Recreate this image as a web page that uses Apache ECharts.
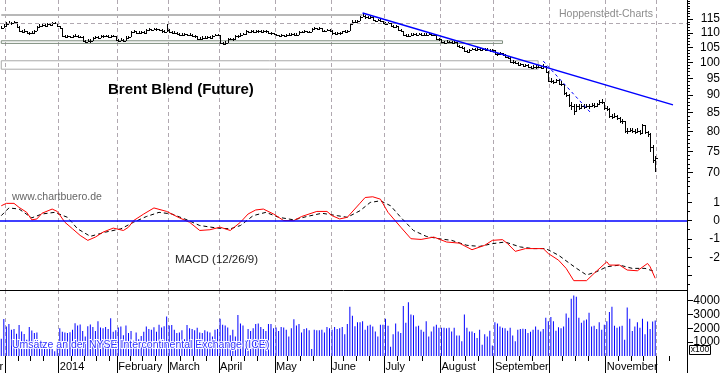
<!DOCTYPE html>
<html><head><meta charset="utf-8">
<script src="https://cdn.jsdelivr.net/npm/echarts@6/dist/echarts.min.js"></script>
<style>html,body{margin:0;padding:0;background:#fff}#c{width:723px;height:373px}</style>
</head><body><div id="c"></div>
<script>
// ---------- categories (trading days per month) ----------
const monthKeys   = ['2013-11','2013-12','2014-01','2014-02','2014-03','2014-04','2014-05','2014-06','2014-07','2014-08','2014-09','2014-10','2014-11','2014-12'];
const monthLabels = ['November','December','2014','February','March','April','May','June','July','August','September','October','November','December'];
const monthDays   = [2,21,23,20,20,22,22,21,22,21,22,22,20,12];
const labelShown  = [false,false,true,true,true,true,true,true,true,true,true,false,true,false];

// ---------- price (HLC bars) ----------
const close = [
111.9,112.4,113.2,113.6,113.4,113.8,112.1,110.8,110.4,110.6,
110.0,109.8,110.1,110.6,112.0,112.5,112.8,112.6,113.0,112.7,
113.4,113.5,112.3,111.9,108.9,108.6,108.8,108.4,108.7,109.0,
108.5,108.6,107.2,106.9,107.3,107.0,108.2,108.5,108.3,108.9,
108.7,108.9,108.5,108.8,108.9,107.4,107.2,107.6,107.3,108.3,
108.5,110.3,110.6,110.1,110.0,110.3,110.0,111.1,111.3,111.0,
111.4,111.2,111.0,110.5,110.4,111.0,110.2,110.0,110.1,109.5,
109.4,109.3,109.5,109.2,109.4,108.8,108.7,107.8,107.9,108.3,
108.2,108.4,108.3,109.0,109.2,109.1,106.5,106.2,106.6,107.7,
107.9,107.8,108.8,108.7,109.4,109.5,110.6,110.3,110.6,110.4,
110.5,110.6,110.4,110.7,110.5,109.8,109.9,109.6,109.1,109.0,
109.2,108.9,109.1,109.4,109.5,109.3,109.4,110.2,110.3,110.5,
110.2,110.4,111.5,111.6,111.4,111.7,110.8,110.6,111.0,110.8,
109.8,109.6,110.0,109.8,110.5,110.4,110.6,113.3,114.0,113.9,
114.3,115.8,116.2,115.6,115.4,115.7,114.5,114.3,114.6,114.2,
113.5,113.3,113.6,112.4,112.2,112.3,110.9,110.7,109.2,109.0,
108.9,109.4,109.5,109.2,109.6,109.3,109.4,109.2,109.5,109.1,
109.3,107.9,107.7,106.8,106.6,106.9,106.7,106.5,106.8,105.4,
105.0,104.8,103.7,103.5,103.9,104.3,104.1,104.5,104.2,104.3,
104.0,104.1,103.8,104.0,102.8,102.6,102.9,102.5,101.7,101.5,
100.2,100.0,99.9,99.1,99.3,98.9,99.0,98.6,98.3,98.6,
98.4,98.6,98.3,98.7,97.0,94.2,94.0,93.8,94.3,93.3,
93.1,90.5,90.0,87.2,86.8,85.5,86.9,86.3,86.8,86.5,
86.9,86.7,87.1,86.8,87.3,87.9,88.0,86.2,86.0,84.0,
83.8,84.2,83.5,82.8,82.6,80.2,80.0,80.4,80.1,79.8,
80.0,79.6,81.6,79.8,79.2,76.0,73.0,73.4];
const high = [
112.5,113.0,113.8,114.2,114.0,114.3,113.9,112.3,111.0,111.2,
110.7,110.4,110.6,111.0,112.4,113.0,113.2,113.1,113.4,113.2,
113.8,113.9,113.6,112.6,111.8,109.3,109.3,109.0,109.2,109.5,
109.2,109.0,108.7,107.6,107.8,107.7,108.6,109.0,108.9,109.3,
109.3,109.4,109.1,109.2,109.4,108.9,107.8,108.0,107.9,108.7,
109.0,110.7,111.0,110.8,110.6,110.7,110.6,111.5,111.8,111.5,
111.9,111.7,111.5,111.2,110.9,113.1,111.3,110.6,110.5,110.2,
109.9,109.8,109.9,109.7,109.8,109.5,109.2,108.7,108.4,108.7,
108.7,108.9,108.8,109.4,109.7,109.6,109.0,106.9,107.1,108.0,
108.3,108.3,109.1,109.2,109.8,109.9,110.9,110.8,110.9,110.9,
110.9,111.0,110.9,111.1,111.0,110.5,110.3,110.1,109.6,109.4,
109.6,109.4,109.5,109.8,109.9,109.8,109.8,110.5,110.7,110.9,
110.7,110.8,111.8,112.0,111.9,112.1,111.8,111.1,111.4,111.3,
110.9,110.2,110.4,110.3,110.8,110.9,111.0,113.6,114.6,114.5,
114.8,116.3,117.3,116.5,116.0,116.2,115.8,114.8,115.1,114.9,
114.4,113.9,114.0,113.7,112.8,112.8,112.6,111.3,110.8,109.6,
109.5,109.8,110.0,109.8,110.0,109.9,109.8,109.8,110.0,109.7,
109.7,109.4,108.2,107.7,107.2,107.4,107.3,107.0,107.3,106.9,
105.7,105.4,105.0,104.1,104.5,104.8,104.8,105.0,104.9,104.8,
104.6,104.6,104.5,104.5,104.0,103.2,103.4,103.1,102.6,102.1,
101.6,100.8,100.5,100.0,99.8,99.6,99.5,99.3,98.9,99.1,
99.0,99.2,98.9,99.3,98.8,97.2,95.0,94.5,94.9,94.6,
94.0,93.2,91.0,90.3,88.0,87.5,87.5,87.3,87.4,87.3,
87.5,87.4,87.7,87.6,87.8,88.4,88.7,88.1,86.8,86.2,
84.6,84.9,84.4,83.8,83.2,82.8,80.9,81.0,80.9,80.6,
80.8,80.4,82.0,81.8,80.2,79.6,76.5,74.0];
const low = [
111.3,111.7,112.3,113.0,112.8,113.1,111.8,110.3,109.9,110.0,
109.6,109.3,109.6,110.0,110.5,111.8,112.2,112.1,112.5,112.3,
112.6,113.0,112.0,111.5,108.6,108.1,108.3,108.0,108.2,108.5,
108.1,108.1,106.9,106.5,106.7,106.6,107.0,108.0,107.9,108.2,
108.3,108.4,108.0,108.3,108.4,107.1,106.8,107.0,106.9,107.2,
108.0,108.4,110.1,109.7,109.6,109.8,109.6,109.9,110.8,110.6,
110.9,110.8,110.5,110.1,110.0,110.2,109.9,109.6,109.6,109.1,
108.9,108.9,109.0,108.8,108.9,108.4,108.2,107.4,107.5,107.8,
107.8,107.9,107.9,108.2,108.8,108.7,106.1,105.8,106.0,106.4,
107.4,107.3,107.7,108.3,108.6,109.1,109.4,109.9,110.1,110.0,
110.0,110.1,110.0,110.2,110.0,109.5,109.4,109.2,108.7,108.6,
108.8,108.5,108.7,109.0,109.1,108.9,109.0,109.3,109.9,110.0,
109.8,110.0,110.3,111.2,111.0,111.2,110.4,110.2,110.5,110.4,
109.4,109.2,109.5,109.4,109.7,110.0,110.2,110.5,113.1,113.5,
113.7,114.2,115.6,115.2,115.0,115.2,114.2,113.9,114.1,113.8,
113.1,112.9,113.0,112.1,111.8,111.9,110.6,110.3,108.9,108.6,
108.5,108.9,109.1,108.8,109.1,108.9,109.0,108.8,109.1,108.7,
108.8,107.6,107.3,106.3,106.2,106.4,106.3,106.0,106.3,105.0,
104.6,104.3,103.3,103.0,103.4,103.9,103.7,104.0,103.8,103.9,
103.6,103.7,103.4,103.5,102.5,102.2,102.5,102.1,101.3,101.0,
99.9,99.6,99.5,98.7,98.8,98.4,98.5,98.1,97.8,98.1,
97.9,98.1,97.8,98.2,96.6,93.8,93.4,93.2,93.6,92.8,
92.5,90.0,89.3,86.6,85.8,84.3,85.4,85.6,86.1,85.9,
86.3,86.1,86.5,86.2,86.6,87.2,87.4,85.8,85.5,83.6,
83.3,83.6,82.9,82.3,82.0,79.7,79.4,79.8,79.5,79.2,
79.5,79.1,79.4,79.2,78.5,74.8,72.2,70.2];

// ---------- MACD (12/26/9): points read at day positions ----------
const macdDay = [0,2,5,7,10,12,14,16,20,22,25,28,31,34,37,40,44,48,50,52,56,60,65,70,74,78,82,86,90,94,97,100,103,107,111,115,118,124,128,130,133,136,141,143,146,149,152,157,161,165,170,175,180,185,190,193,197,199,202,206,213,215,219,222,225,230,233,238,239,243,246,250,254,255,257];
const macdVal = [0.81,0.94,0.94,0.72,0.45,0.04,0.09,0.40,0.63,0.50,-0.09,-0.45,-0.81,-1.08,-0.90,-0.63,-0.41,-0.54,-0.36,0,0.36,0.69,0.50,0.15,-0.09,-0.54,-0.50,-0.36,-0.54,-0.09,0.36,0.58,0.63,0.36,0,0,0.22,0.50,0.50,0.27,0.09,0.18,0.95,1.26,1.30,1.17,0.45,-0.36,-0.99,-1.03,-0.90,-1.17,-1.23,-1.59,-1.35,-1.08,-1.04,-1.26,-1.68,-1.53,-1.53,-1.80,-2.16,-2.61,-3.28,-3.28,-2.88,-2.25,-2.43,-2.43,-2.70,-2.74,-2.34,-2.52,-3.15];
const signalDay = [0,3,7,12,16,21,26,30,35,41,47,52,57,62,67,73,78,85,90,94,99,104,109,115,120,126,132,136,141,145,149,153,157,162,167,172,177,183,188,193,198,204,209,214,219,223,226,230,234,238,243,248,253,257];
const signalVal = [0.27,0.69,0.63,0.15,0.36,0.45,0.18,-0.45,-0.86,-0.63,-0.45,-0.09,0.22,0.45,0.36,0.04,-0.27,-0.41,-0.45,-0.27,0.27,0.45,0.18,0.04,0.22,0.40,0.27,0.18,0.54,0.99,1.08,0.81,0.18,-0.54,-0.86,-0.99,-1.08,-1.35,-1.41,-1.26,-1.17,-1.44,-1.53,-1.53,-1.89,-2.3,-2.6,-2.97,-2.79,-2.52,-2.43,-2.61,-2.61,-2.79];

// ---------- volume (x100) ----------
const volume = [
1250,2660,2130,2300,1890,1940,1600,2230,1770,1580,1170,2090,1840,1650,1700,1050,930,880,600,1000,500,350,650,
2010,1750,1700,1650,1720,1900,2370,2200,2280,1800,1400,2150,2270,2100,1800,2500,2050,2000,2100,1950,2730,1750,1850,
2050,2130,1500,2200,1650,1800,1100,1700,1200,1450,1750,2130,1950,1900,2070,1750,2250,2050,2150,2850,
2200,2230,1900,1650,1700,1850,1200,2230,2000,1950,1850,2030,1700,1650,1850,1770,1700,1400,1900,1950,
2680,2250,2200,2050,1500,1890,1400,2950,2350,2200,1100,1950,1800,2000,2300,2350,2100,1950,1800,2300,2300,2000,
2050,1800,2100,2050,1900,1400,2000,2650,2200,2300,1700,1950,2000,1850,500,1900,1850,1850,1900,1700,2100,2000,
1900,2100,1950,2000,2100,1560,2300,3560,2900,2150,2430,2430,2500,1900,2180,2250,2130,1770,1410,2250,2250,
2680,2180,670,1560,2340,1770,1650,3600,2400,3880,2990,2940,2130,2180,1900,1740,2500,1410,1770,2130,2250,2030,
2030,2030,2000,2030,1770,2030,1480,1480,1060,2990,2030,1770,1770,1650,1290,1890,820,1560,1410,1820,760,
2430,2340,2130,2030,2000,1820,2030,1480,1060,1900,1940,1960,1940,1650,1740,1900,2130,1900,1770,1940,2750,2500,
2820,2500,1820,2080,2000,2130,3070,2750,4130,4360,4270,2750,2400,2560,2640,3120,2130,2180,1940,2430,1900,2250,
2500,3170,3560,2180,2030,2130,2180,1170,3490,2690,1810,2130,2430,2030,2690,1560,2480,1940,2480,2560];

// ---------- axis ticks / labels ----------
const priceLabels = [70,75,80,85,90,95,100,105,110,115];
const priceMinorTicks = [67,68,69,70,71,72,73,74,75,76,77,78,79,80,81,82,83,84,85,86,87,88,89,90,91,92,93,94,95,96,97,98,99,100,101,102,103,104,105,106,107,108,109,110,111,112,113,114,115,116,117,118,119,120,121,122];
const macdLabels = [-2,-1,0,1];
const macdMajorTicks = [-3,-2,-1,0,1];
const macdMinorTicks = [-3.5,-2.5,-1.5,-0.5,0.5,1.5];
const volumeLabels = [1000,2000,3000,4000];
const priceTop = 122.3, priceBottom = 66.2;

// ---------- annotations (price levels / trend line) ----------
const topLine = {from:0, to:142, price:116.5};
const boxA = {from:0, to:197, top:107.2, bottom:106.3};
const boxB = {from:0, to:211, top:100.5, bottom:97.8};
const gridLevel = 112.8;
const trendLine = {from:142, fromPrice:117.25, to:264, toPrice:87.15};
const trendLine2 = {from:213, fromPrice:100.4, to:232, toPrice:84.7};

// ---------- build ----------
const FONT = '"Liberation Sans", Arial, sans-serif';
const categories = [], monthStart = [], labelAt = {};
let k = 0;
monthKeys.forEach((key, mi) => {
  monthStart.push(k);
  if (labelShown[mi]) labelAt[k] = monthLabels[mi];
  for (let d = 0; d < monthDays[mi]; d++) { categories.push(key + '-' + (d + 1)); k++; }
});
const monthLineSet = new Set(monthStart.filter(i => i > 0));
const weekTickSet = new Set();
monthKeys.forEach((key, mi) => {
  if (mi === 0) return;
  for (let d = 5; d < monthDays[mi] - 2; d += 5) weekTickSet.add(monthStart[mi] + d);
});
const L = Math.log;
const priceData = close.map((c, i) => [i, L(high[i]), L(low[i]), L(c)]);
const macdData = macdDay.map((d, i) => [d, macdVal[i]]);
const signalData = signalDay.map((d, i) => [d, signalVal[i]]);

const split = {show: true, interval: (i) => monthLineSet.has(i), lineStyle: {color: '#b0a8b0', type: [4, 3], width: 1}};
const hiddenX = (g) => ({type: 'category', gridIndex: g, data: categories, boundaryGap: true,
  axisLine: {show: false, onZero: false}, axisTick: {show: false}, axisLabel: {show: false}, splitLine: split});

const gridBase = {left: 0, right: 36, containLabel: false, outerBoundsMode: 'none'};
const grids = [
  Object.assign({top: 0, height: 190}, gridBase),
  Object.assign({top: 190, height: 100}, gridBase),
  Object.assign({top: 290, height: 66}, gridBase)
];

const xAxes = [
  hiddenX(0),
  Object.assign(hiddenX(1), {axisLine: {show: true, onZero: false, lineStyle: {color: '#000', width: 1}}}),
  {type: 'category', gridIndex: 2, data: categories, boundaryGap: true, position: 'bottom',
   axisLine: {show: false, onZero: false},
   axisTick: {show: true, interval: (i) => weekTickSet.has(i), length: 5, lineStyle: {color: '#000'}},
   axisLabel: {show: true, interval: (i) => labelAt[i] !== undefined, formatter: (v, i) => labelAt[i] || '',
     align: 'left', margin: 5, fontSize: 11, fontFamily: FONT, color: '#000'},
   splitLine: split},
  {type: 'category', gridIndex: 2, data: categories, boundaryGap: true, position: 'bottom',
   axisLine: {show: false, onZero: false},
   axisTick: {show: true, interval: (i) => monthLineSet.has(i), length: 17, lineStyle: {color: '#000'}},
   axisLabel: {show: true, interval: (i) => i === 0, formatter: () => monthLabels[0],
     align: 'right', margin: 5, padding: [0, -2, 0, 0], fontSize: 11, fontFamily: FONT, color: '#000'},
   splitLine: {show: false}}
];

const labelStyle = {fontSize: 12, fontFamily: FONT, color: '#000', align: 'right', margin: 33};
const yAxes = [
  {type: 'value', gridIndex: 0, position: 'right', min: L(priceBottom), max: L(priceTop),
   axisLine: {show: true, lineStyle: {color: '#000'}},
   axisTick: {show: true, length: 6, customValues: priceLabels.map(L), lineStyle: {color: '#000'}},
   axisLabel: Object.assign({show: true, customValues: priceLabels.map(L), formatter: (v) => String(Math.round(Math.exp(v)))}, labelStyle),
   splitLine: {show: false}},
  {type: 'value', gridIndex: 0, position: 'right', min: L(priceBottom), max: L(priceTop),
   axisLine: {show: false},
   axisTick: {show: true, length: 3, customValues: priceMinorTicks.map(L), lineStyle: {color: '#000'}},
   axisLabel: {show: false}, splitLine: {show: false}},
  {type: 'value', gridIndex: 1, position: 'right', min: -3.79, max: 1.67,
   axisLine: {show: true, lineStyle: {color: '#000'}},
   axisTick: {show: true, length: 5, customValues: macdMajorTicks, lineStyle: {color: '#000'}},
   axisLabel: Object.assign({show: true, customValues: macdLabels, formatter: (v) => String(Math.round(v))}, labelStyle),
   splitLine: {show: false}},
  {type: 'value', gridIndex: 1, position: 'right', min: -3.79, max: 1.67,
   axisLine: {show: false},
   axisTick: {show: true, length: 3, customValues: macdMinorTicks, lineStyle: {color: '#000'}},
   axisLabel: {show: false}, splitLine: {show: false}},
  {type: 'value', gridIndex: 2, position: 'right', min: 0, max: 4760,
   axisLine: {show: true, lineStyle: {color: '#000'}},
   axisTick: {show: true, length: 6, customValues: volumeLabels, lineStyle: {color: '#000'}},
   axisLabel: Object.assign({show: true, customValues: volumeLabels, formatter: (v) => String(Math.round(v))}, labelStyle),
   splitLine: {show: false}}
];

function renderHLC(params, api) {
  const i = api.value(0);
  const h = api.coord([i, api.value(1)]);
  const l = api.coord([i, api.value(2)]);
  const c = api.coord([i, api.value(3)]);
  const x = Math.round(h[0]) + 0.5;
  const yH = Math.round(h[1]);
  const yL = Math.max(Math.round(l[1]), yH + 1);
  const yC = Math.round(c[1]) + 0.5;
  return {type: 'group', children: [
    {type: 'line', shape: {x1: x, y1: yH, x2: x, y2: yL}, style: {stroke: '#000', lineWidth: 1}},
    {type: 'line', shape: {x1: x + 0.5, y1: yC, x2: x + 2.5, y2: yC}, style: {stroke: '#000', lineWidth: 1}}
  ]};
}

const noSym = ['none', 'none'];
const series = [
  {type: 'line', xAxisIndex: 0, yAxisIndex: 0, data: categories.map(() => null), silent: true, z: 1,
   markArea: {silent: true, label: {show: false}, data: [
     [{xAxis: boxA.from, yAxis: L(boxA.top), itemStyle: {color: 'rgba(0,0,0,0)', borderColor: '#7d8c7d', borderWidth: 1}},
      {xAxis: boxA.to, yAxis: L(boxA.bottom)}],
     [{xAxis: boxB.from, yAxis: L(boxB.top), itemStyle: {color: 'rgba(0,0,0,0)', borderColor: '#aaaaaa', borderWidth: 1}},
      {xAxis: boxB.to, yAxis: L(boxB.bottom)}]
   ]},
   markLine: {silent: true, symbol: noSym, label: {show: false}, data: [
     {yAxis: L(gridLevel), lineStyle: {color: '#b0a8b0', type: [4, 3], width: 1}},
     [{coord: [topLine.from, L(topLine.price)], lineStyle: {color: '#b8b8b8', type: 'solid', width: 2}},
      {coord: [topLine.to, L(topLine.price)]}],
     [{coord: [trendLine2.from, L(trendLine2.fromPrice)], lineStyle: {color: '#0000ff', type: [3, 3], width: 1}},
      {coord: [trendLine2.to, L(trendLine2.toPrice)]}],
     [{coord: [trendLine.from, L(trendLine.fromPrice)], lineStyle: {color: '#0000ff', type: 'solid', width: 1.5}},
      {coord: [trendLine.to, L(trendLine.toPrice)]}]
   ]}},
  {type: 'custom', xAxisIndex: 0, yAxisIndex: 0, data: priceData, renderItem: renderHLC, clip: true, z: 3,
   encode: {x: 0, y: [1, 2, 3]}, silent: true},
  {type: 'line', xAxisIndex: 1, yAxisIndex: 2, data: signalData, symbol: 'none', silent: true, z: 3,
   lineStyle: {color: '#000', width: 1, type: [4, 3]},
   markLine: {silent: true, symbol: noSym, label: {show: false},
     data: [{yAxis: 0, lineStyle: {color: '#0000ff', width: 1.5, type: 'solid'}}]}},
  {type: 'line', xAxisIndex: 1, yAxisIndex: 2, data: macdData, symbol: 'none', silent: true, z: 4,
   lineStyle: {color: '#ff0000', width: 1}},
  {type: 'bar', xAxisIndex: 2, yAxisIndex: 4, data: volume, barWidth: 1, silent: true, z: 2,
   itemStyle: {color: '#0000ff'}}
];

const graphic = {z: 100, elements: [
  {type: 'text', x: 108, y: 90, z: 100, style: {text: 'Brent Blend (Future)', font: 'bold 15px ' + FONT, fill: '#000', align: 'left', verticalAlign: 'middle'}},
  {type: 'text', x: 559, y: 14, z: 100, style: {text: 'Hoppenstedt-Charts', font: '10.5px ' + FONT, fill: '#8c8c8c', align: 'left', verticalAlign: 'middle'}},
  {type: 'text', x: 12, y: 197, z: 100, style: {text: 'www.chartbuero.de', font: '10.5px ' + FONT, fill: '#666', align: 'left', verticalAlign: 'middle'}},
  {type: 'text', x: 175, y: 260, z: 100, style: {text: 'MACD (12/26/9)', font: '11.5px ' + FONT, fill: '#222', align: 'left', verticalAlign: 'middle'}},
  {type: 'text', x: 12, y: 345.5, z: 100, style: {text: 'Umsätze an der NYSE Intercontinental Exchange (ICE)', font: '10.5px ' + FONT, fill: '#3333ff', stroke: '#ffffff', lineWidth: 2, align: 'left', verticalAlign: 'middle'}},
  {type: 'rect', z: 100, shape: {x: 689.5, y: 345.5, width: 21, height: 9}, style: {fill: '#fff', stroke: '#000', lineWidth: 1}},
  {type: 'text', x: 700, y: 350, z: 101, style: {text: 'x100', font: '8.5px ' + FONT, fill: '#000', align: 'center', verticalAlign: 'middle'}}
]};

const chart = echarts.init(document.getElementById('c'), null, {renderer: 'canvas'});
chart.setOption({animation: false, backgroundColor: '#fff', grid: grids, xAxis: xAxes, yAxis: yAxes, series, graphic});
</script>
</body></html>
